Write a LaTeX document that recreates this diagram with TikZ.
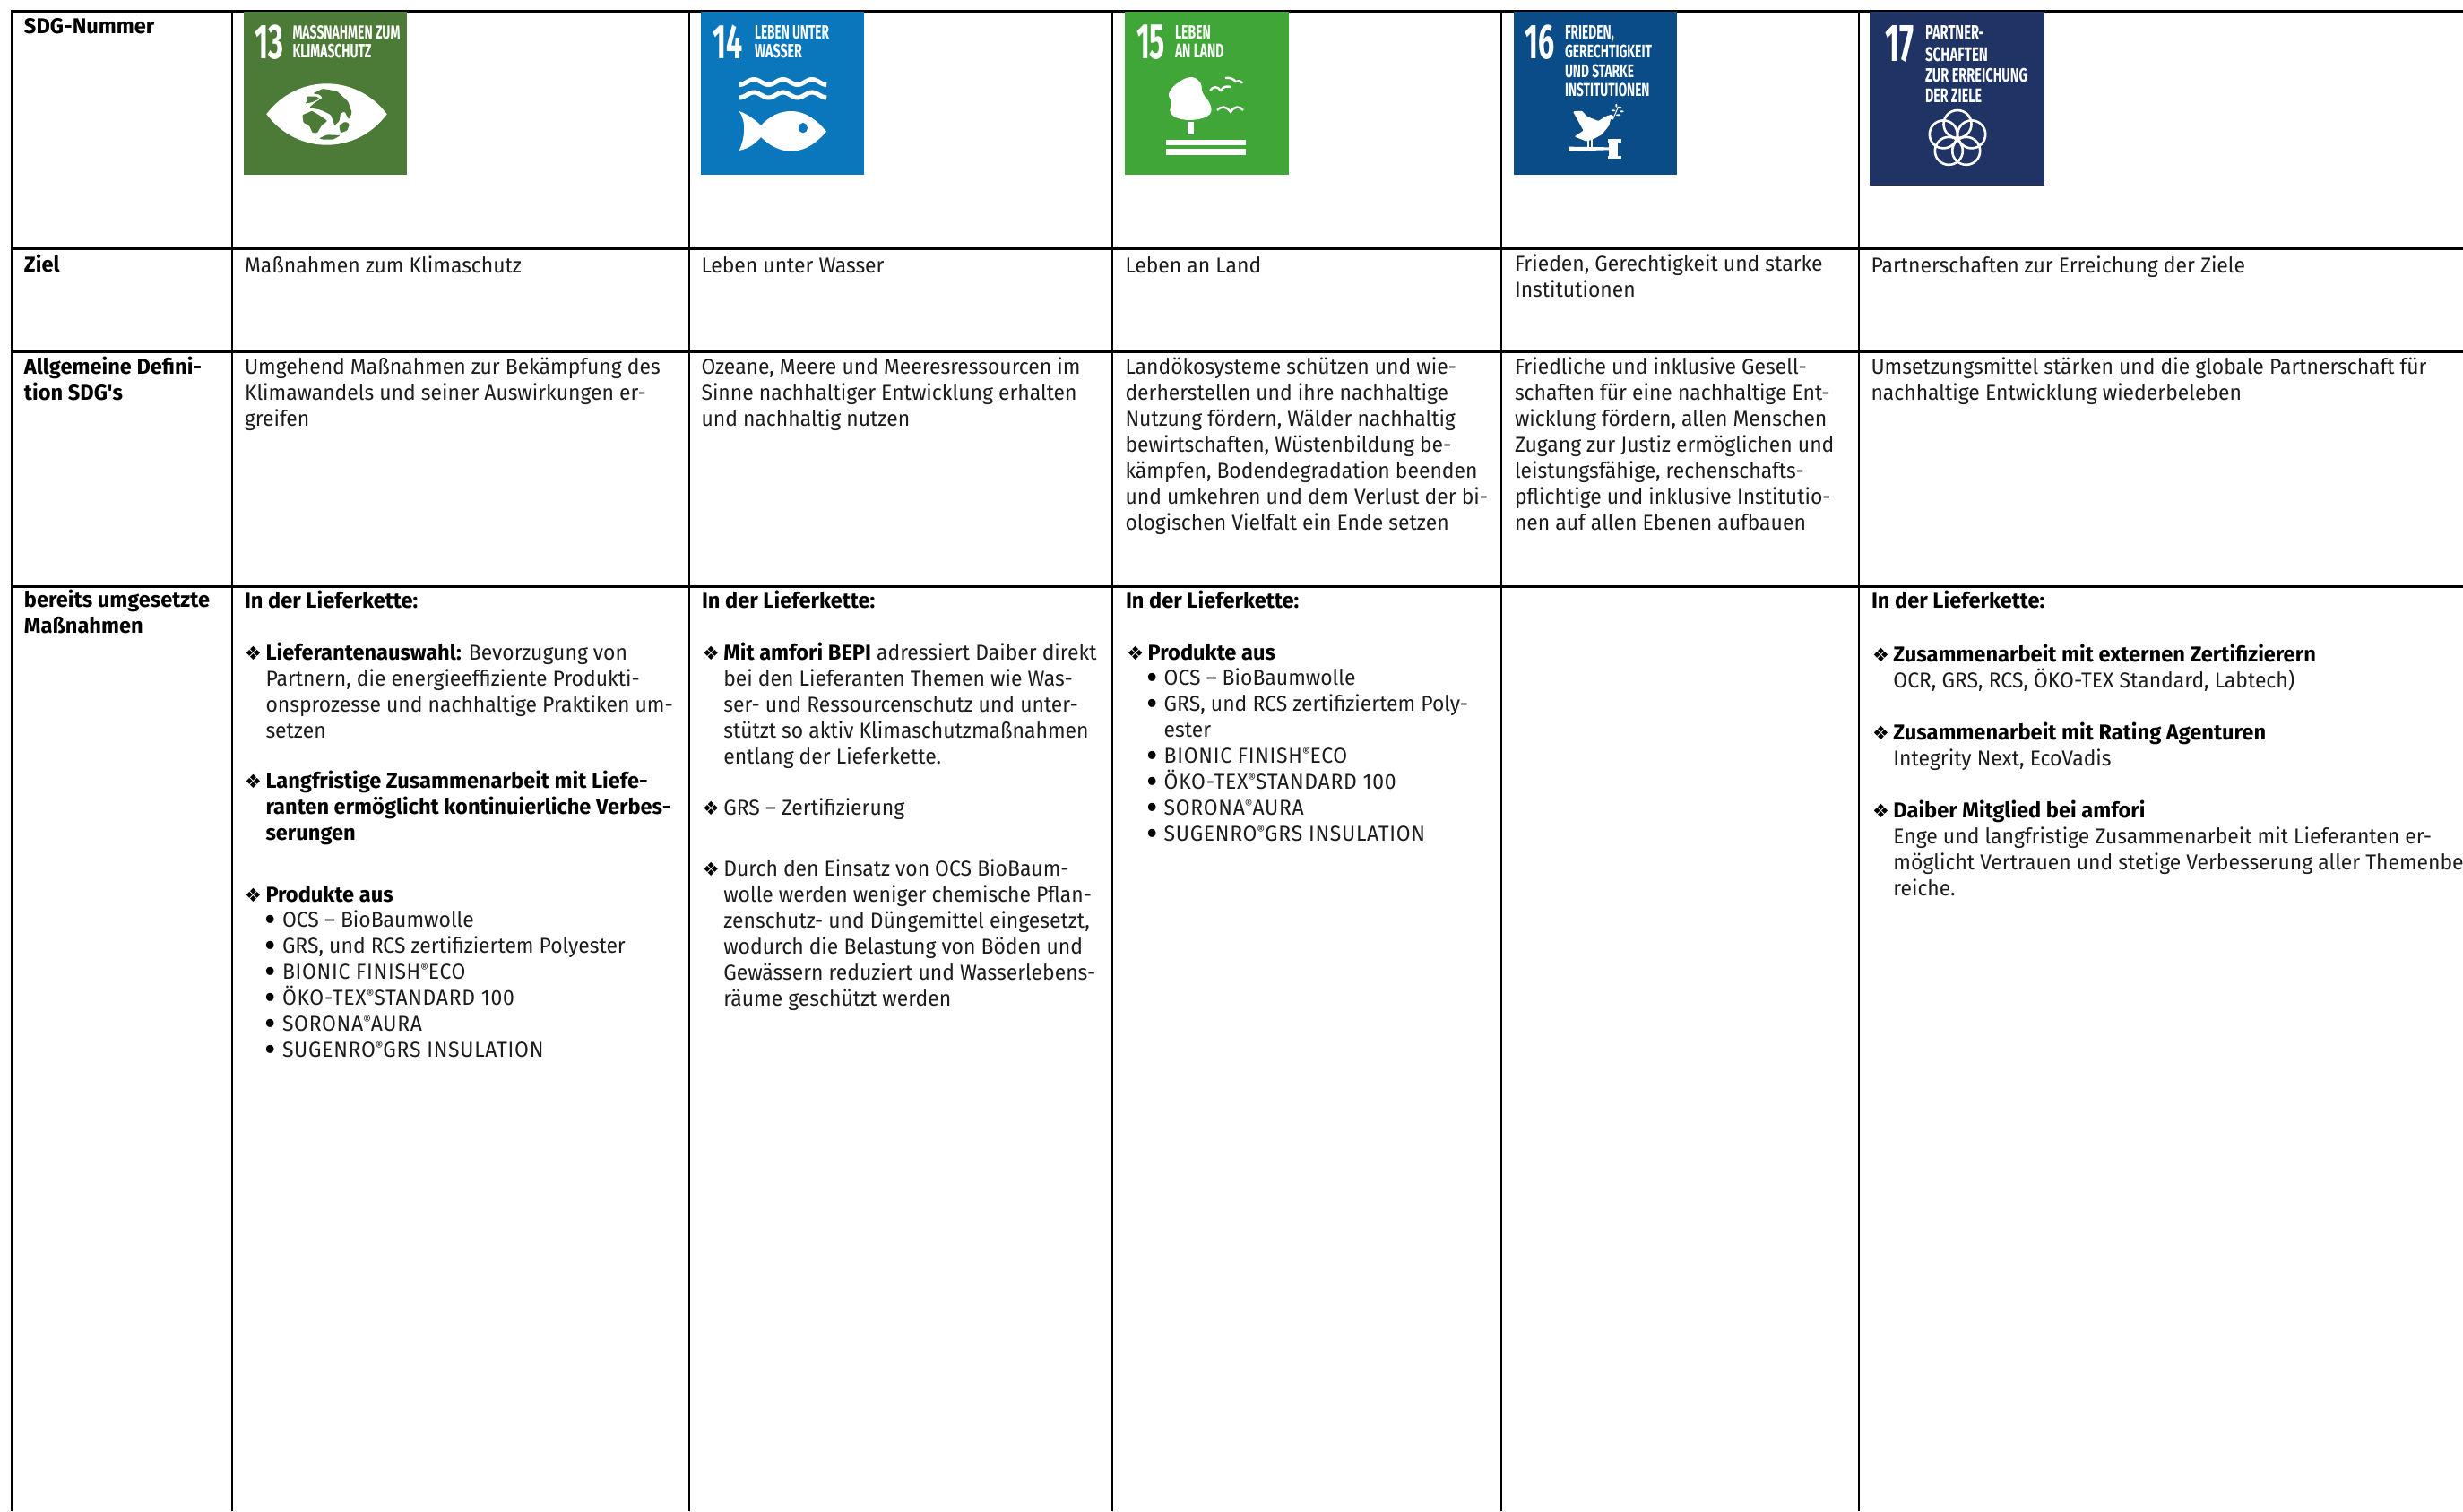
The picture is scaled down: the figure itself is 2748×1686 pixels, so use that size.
\documentclass[tikz,border=0pt]{standalone}
\usepackage{fontspec}
\usepackage{graphicx}
\setmainfont{Fira Sans}[FakeStretch=0.955,BoldFeatures={FakeStretch=0.985}]
\newfontfamily\symfont{DejaVu Sans}
\newfontfamily\icofont{Fira Sans}
\definecolor{sdgA}{HTML}{4C7A37}
\definecolor{sdgB}{HTML}{0A77BC}
\definecolor{sdgC}{HTML}{3FA637}
\definecolor{sdgD}{HTML}{0A4C87}
\definecolor{sdgE}{HTML}{1F3465}
\definecolor{ink}{HTML}{1C1C1C}
\newcommand{\dia}{\leavevmode\llap{{\color{black}\symfont\fontsize{21}{29}\selectfont ❖}\hspace{4.5pt}}}
\newcommand{\bul}{\leavevmode\llap{{\color{black}\fontsize{40}{29}\selectfont\raisebox{-5pt}{•}}\hspace{7pt}}}
\newcommand{\reg}{\raisebox{7pt}{\fontsize{14}{14}\selectfont ®}}
\newcommand{\caps}[1]{{\addfontfeature{LetterSpace=3}#1}}
\newcommand{\bd}[1]{{\color{black}\bfseries #1}}
\tikzset{
  rowline/.style={black,line width=3pt},
  colline/.style={black,line width=2pt},
  txt/.style={anchor=north west,inner sep=0pt,outer sep=0pt,align=left,yshift=19.1pt,text=ink,
     font=\fontsize{24}{29}\selectfont,execute at begin node=\strut},
  head/.style={txt,yshift=0.5pt,text=black,font=\fontsize{24}{29}\selectfont\bfseries},
  ico/.style={anchor=base west,inner sep=0pt,outer sep=0pt,text=white},
  tile/.style={fill=#1,draw=none}
}
% name, x, baseline, width, height, text
\newcommand{\ict}[6]{\node[ico] (#1) at (#2,#3) {\resizebox{#4pt}{#5pt}{\icofont\bfseries #6}};}
\newcommand{\icb}[6]{\node[ico] (#1) at (#2,#3) {\resizebox{#4pt}{#5pt}{\icofont\bfseries #6}};}
\begin{document}
\begin{tikzpicture}[x=1pt,y=-1pt]
\useasboundingbox (0,0) rectangle (2748,1686);
\fill[white] (0,0) rectangle (2748,1686);
% table rules
\foreach \xx in {13,258.5,768.5,1241,1675,2074}{\draw[colline] (\xx,13) -- (\xx,1686);}
\foreach \yy in {13,277,392.3,654}{\draw[rowline] (12,\yy) -- (2748,\yy);}
% tiles
\fill[sdgA] (272,13) rectangle (454,195);
\fill[sdgB] (782,13) rectangle (964,195);
\fill[sdgC] (1255,13) rectangle (1437.5,195);
\fill[sdgD] (1689,13) rectangle (1870.5,195);
\fill[sdgE] (2086,13) rectangle (2280.5,207);
% tile 13
\icb{n13}{284}{65.7}{32}{37.7}{13}
\ict{t13a}{326.5}{43.3}{120}{15}{MASSNAHMEN ZUM}
\ict{t13b}{326.5}{64.3}{88}{15.3}{KLIMASCHUTZ}
\fill[white] (297.3,127.3) .. controls (315,104) and (340,93.3) .. (364.5,93.3)
   .. controls (389,93.3) and (414,104) .. (431.7,127.3)
   .. controls (414,151) and (389,161.7) .. (364.5,161.7)
   .. controls (340,161.7) and (315,151) .. (297.3,127.3) -- cycle;
\begin{scope}[shift={(290,85)},x=0.3333pt,y=-0.3333pt]
  \fill[sdgA,rounded corners=1.2pt] (178,58) -- (210,42) -- (258,50) -- (295,85) -- (308,122) -- (298,145) -- (283,118) -- (270,125) -- (266,150) -- (250,165) -- (238,130) -- (215,118) -- (200,112) -- (165,105) -- (185,88) -- (210,72) -- (200,62) -- cycle;
  \fill[sdgA,rounded corners=1.2pt] (155,68) -- (190,68) -- (200,76) -- (172,88) -- (150,92) -- (162,80) -- cycle;
  \fill[sdgA,rounded corners=1.2pt] (142,130) -- (175,116) -- (205,135) -- (226,150) -- (206,165) -- (192,190) -- (176,190) -- (165,165) -- (146,156) -- cycle;
  \fill[sdgA,rounded corners=1.2pt] (265,165) -- (285,152) -- (300,160) -- (292,182) -- (270,190) -- cycle;
  \fill[sdgA,rounded corners=1.2pt] (198,208) -- (225,196) -- (270,198) -- (245,212) -- (210,212) -- cycle;
\end{scope}
% tile 14
\icb{n14}{795.3}{65.7}{33}{37.7}{14}
\ict{t14a}{842}{43.3}{83}{15}{LEBEN UNTER}
\ict{t14b}{842}{64.3}{53}{15.3}{WASSER}
\draw[white,line width=5pt] plot[domain=0:3,samples=61] ({825+\x*32.4},{91.5-3*cos(360*\x+180)});
\draw[white,line width=5pt] plot[domain=0:3,samples=61] ({825+\x*32.4},{106-3*cos(360*\x+180)});
\fill[white] (824.6,124) .. controls (836,128) and (845,136) .. (849,140)
   .. controls (858,130) and (870,124) .. (882,124) .. controls (900,124) and (912,135) .. (922,146.7)
   .. controls (912,158) and (900,168.7) .. (882,168.7) .. controls (870,168.7) and (858,162) .. (849,153)
   .. controls (843,160) and (835,166) .. (824.6,168) .. controls (831,155) and (833,135) .. (824.6,124) -- cycle;
\fill[sdgB] (896,142.7) ellipse [x radius=5,y radius=5.7];
% tile 15
\icb{n15}{1268}{65.7}{32}{37.7}{15}
\ict{t15a}{1311}{43.3}{40}{15}{LEBEN}
\ict{t15b}{1311}{64.3}{54.5}{15.3}{AN LAND}
\fill[white] plot[smooth cycle,tension=0.7] coordinates {(1328,86) (1339,92) (1342,104) (1350,116) (1350,127) (1337,133) (1318,133) (1306,126) (1307,114) (1304,105) (1312,94)};
\fill[white] (1325,136) rectangle (1332,150);
\fill[white] (1301,156) rectangle (1390,162);
\fill[white] (1301,166) rectangle (1390,173);
\draw[white,line width=2.4pt] (1367,87) .. controls (1372,86) and (1376,88) .. (1379,91) .. controls (1381,89) and (1384,90) .. (1386,93);
\draw[white,line width=2.4pt] (1350,101) .. controls (1354,96) and (1358,96) .. (1362,101) .. controls (1365,96) and (1369,96) .. (1373,97);
\draw[white,line width=2.4pt] (1358,123) .. controls (1363,118) and (1368,118) .. (1373,125) .. controls (1377,118) and (1383,118) .. (1387,123);
% tile 16
\icb{n16}{1701.5}{65.7}{33}{37.7}{16}
\ict{t16a}{1746}{43.3}{55}{15}{FRIEDEN,}
\ict{t16b}{1746}{64.3}{97}{14.5}{GERECHTIGKEIT}
\ict{t16c}{1746}{86}{77}{14.5}{UND STARKE}
\ict{t16d}{1746}{107.7}{94.5}{14.7}{INSTITUTIONEN}
\begin{scope}[shift={(1750,105)},x=0.3333pt,y=-0.3333pt]
  \fill[white,rounded corners=1pt] (15,58) -- (45,56) -- (62,75) -- (100,90) -- (125,74) -- (145,68) -- (153,78) -- (141,84) -- (136,105) -- (112,135) -- (85,150) -- (60,158) -- (20,142) -- (50,122) -- (35,95) -- cycle;
  \fill[white] (63,155) rectangle (68,180);
  \fill[white] (76,150) rectangle (81,180);
  \draw[white,line width=1pt] (148,85) -- (167,42);
  \fill[white] (150,55) ellipse [x radius=7,y radius=3];
  \fill[white] (170,45) ellipse [x radius=8,y radius=3];
  \fill[white] (178,58) ellipse [x radius=7,y radius=3];
  \fill[white] (167,70) ellipse [x radius=8,y radius=3];
  \fill[white] (160,38) ellipse [x radius=3,y radius=6];
  \fill[white] (0,176) -- (135,178) -- (135,187) -- (0,191) -- cycle;
  \fill[white] (136,160) rectangle (165,206);
  \fill[white] (132,151) rectangle (176,161);
  \fill[white] (132,207) rectangle (176,217);
\end{scope}
% tile 17
\icb{n17}{2103.5}{69}{32}{40}{17}
\ict{t17a}{2148}{45}{65.7}{16}{PARTNER-}
\ict{t17b}{2148}{68.3}{70}{15.6}{SCHAFTEN}
\ict{t17c}{2148}{91}{114}{15.3}{ZUR ERREICHUNG}
\ict{t17d}{2148}{114.3}{63}{15.3}{DER ZIELE}
\foreach \aa in {90,162,234,306,18}{\draw[white,line width=2.6pt] ({2184+16.5*cos(\aa)},{155-16.5*sin(\aa)}) circle [radius=15.5pt];}
% first column
\node[head] (h1) at (27,37) {SDG-Nummer};
\node[head] (h2) at (27,303) {Ziel};
\node[head] (h3) at (27,418) {Allgemeine Defini-\\tion SDG\textquotesingle s};
\node[head] (h4) at (27,677.5) {bereits umgesetzte\\Maßnahmen};
% row Ziel
\node[txt] (z1) at (273,303) {Maßnahmen zum Klimaschutz};
\node[txt] (z2) at (782.5,303) {Leben unter Wasser};
\node[txt] (z3) at (1255.5,303) {Leben an Land};
\node[txt] (z4) at (1690,303) {Frieden, Gerechtigkeit und starke\\Institutionen};
\node[txt] (z5) at (2087.5,303) {Partnerschaften zur Erreichung der Ziele};
% row Definition
\node[txt] (d1) at (273,418) {Umgehend Maßnahmen zur Bekämpfung des\\Klimawandels und seiner Auswirkungen er-\\greifen};
\node[txt] (d2) at (782.5,418) {Ozeane, Meere und Meeresressourcen im\\Sinne nachhaltiger Entwicklung erhalten\\und nachhaltig nutzen};
\node[txt] (d3) at (1255.5,418) {Landökosysteme schützen und wie-\\derherstellen und ihre nachhaltige\\Nutzung fördern, Wälder nachhaltig\\bewirtschaften, Wüstenbildung be-\\kämpfen, Bodendegradation beenden\\und umkehren und dem Verlust der bi-\\ologischen Vielfalt ein Ende setzen};
\node[txt] (d4) at (1690,418) {Friedliche und inklusive Gesell-\\schaften für eine nachhaltige Ent-\\wicklung fördern, allen Menschen\\Zugang zur Justiz ermöglichen und\\leistungsfähige, rechenschafts-\\pflichtige und inklusive Institutio-\\nen auf allen Ebenen aufbauen};
\node[txt] (d5) at (2087.5,418) {Umsetzungsmittel stärken und die globale Partnerschaft für\\nachhaltige Entwicklung wiederbeleben};
% column 13
\node[head] (a0) at (273,677.5) {In der Lieferkette:};
\node[txt] (a1) at (296.5,736) {\dia\bd{Lieferantenauswahl:} Bevorzugung von\\Partnern, die energieeffiziente Produkti-\\onsprozesse und nachhaltige Praktiken um-\\setzen};
\node[head] (a2) at (296.5,880) {\dia Langfristige Zusammenarbeit mit Liefe-\\ranten ermöglicht kontinuierliche Verbes-\\serungen};
\node[head] (a3) at (296.5,1006) {\dia Produkte aus};
\node[txt] (a4) at (315,1034.7) {\bul OCS – BioBaumwolle\\\bul GRS, und RCS zertifiziertem Polyester\\\bul \caps{BIONIC FINISH}\reg\caps{ECO}\\\bul \caps{ÖKO-TEX}\reg\caps{STANDARD 100}\\\bul \caps{SORONA}\reg\caps{AURA}\\\bul \caps{SUGENRO}\reg\caps{GRS INSULATION}};
% column 14
\node[head] (b0) at (783,677.5) {In der Lieferkette:};
\node[txt] (b1) at (807.3,736) {\dia\bd{Mit amfori BEPI} adressiert Daiber direkt\\bei den Lieferanten Themen wie Was-\\ser- und Ressourcenschutz und unter-\\stützt so aktiv Klimaschutzmaßnahmen\\entlang der Lieferkette.};
\node[txt] (b2) at (807.3,908.3) {\dia GRS – Zertifizierung};
\node[txt] (b3) at (807.3,978.3) {\dia Durch den Einsatz von OCS BioBaum-\\wolle werden weniger chemische Pflan-\\zenschutz- und Düngemittel eingesetzt,\\wodurch die Belastung von Böden und\\Gewässern reduziert und Wasserlebens-\\räume geschützt werden};
% column 15
\node[head] (c0) at (1256,677.5) {In der Lieferkette:};
\node[head] (c1) at (1280.7,736) {\dia Produkte aus};
\node[txt] (c2) at (1298.7,765) {\bul OCS – BioBaumwolle\\\bul GRS, und RCS zertifiziertem Poly-\\ester\\\bul \caps{BIONIC FINISH}\reg\caps{ECO}\\\bul \caps{ÖKO-TEX}\reg\caps{STANDARD 100}\\\bul \caps{SORONA}\reg\caps{AURA}\\\bul \caps{SUGENRO}\reg\caps{GRS INSULATION}};
% column 17
\node[head] (e0) at (2088,677.5) {In der Lieferkette:};
\node[txt] (e1) at (2112.4,738) {\dia\bd{Zusammenarbeit mit externen Zertifizierern}\\OCR, GRS, RCS, ÖKO-TEX Standard, Labtech)};
\node[txt] (e2) at (2112.4,825) {\dia\bd{Zusammenarbeit mit Rating Agenturen}\\Integrity Next, EcoVadis};
\node[txt] (e3) at (2112.4,911.7) {\dia\bd{Daiber Mitglied bei amfori}\\Enge und langfristige Zusammenarbeit mit Lieferanten er-\\möglicht Vertrauen und stetige Verbesserung aller Themenbe-\\reiche.};
\end{tikzpicture}
\end{document}
